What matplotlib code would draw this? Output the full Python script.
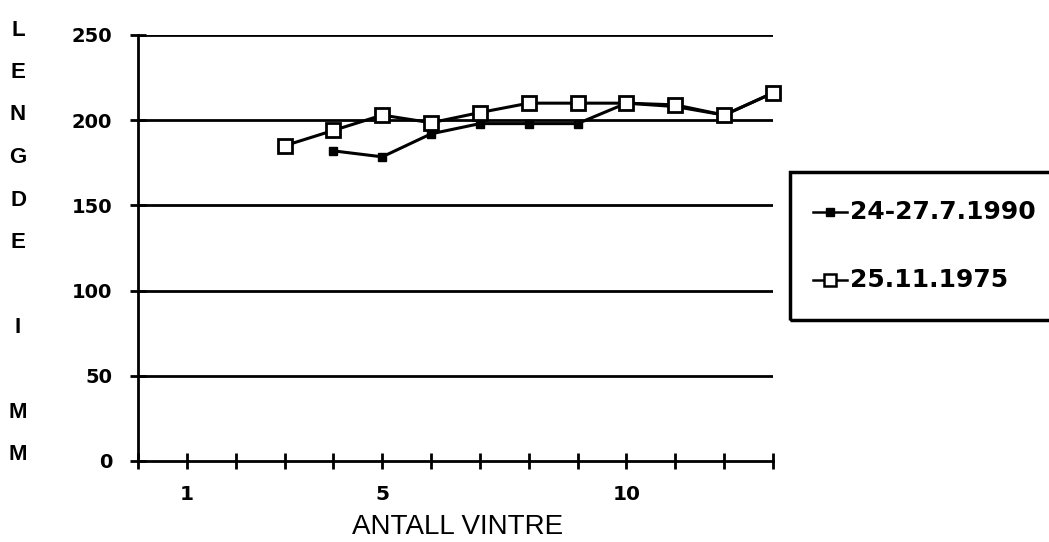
import matplotlib
matplotlib.use("Agg")
import matplotlib.pyplot as plt
from matplotlib.patches import Rectangle
from matplotlib.lines import Line2D

# Data
x_1990 = [4, 5, 6, 7, 8, 9, 10, 11, 12, 13]
y_1990 = [182, 178.5, 192, 198, 198, 198, 210, 208, 203, 216]
x_1975 = [3, 4, 5, 6, 7, 8, 9, 10, 11, 12, 13]
y_1975 = [185, 194, 203, 198.5, 204.5, 210, 210, 210, 209, 203, 216]
label_1990 = "24-27.7.1990"
label_1975 = "25.11.1975"
yticks = [0, 50, 100, 150, 200, 250]
xtick_labels = {1: "1", 5: "5", 10: "10"}
ylabel = "LENGDE I MM"
xlabel = "ANTALL VINTRE"

plt.rcParams['font.family'] = ['DejaVu Sans']

W, H = 1049, 542
fig = plt.figure(figsize=(W / 100, H / 100), dpi=100)
ax = fig.add_axes([138 / W, 1 - 461 / H, (773 - 138) / W, (461 - 35) / H])
ax.set_xlim(0, 13)
ax.set_ylim(0, 250)

for yv in yticks[1:]:
    ax.axhline(yv, color='black', lw=2.0, zorder=1)

ax.plot(x_1990, y_1990, color='black', lw=2.2, marker='s', markersize=6,
        markerfacecolor='black', zorder=3)
ax.plot(x_1975, y_1975, color='black', lw=2.2, marker='s', markersize=10,
        markerfacecolor='white', markeredgewidth=2.0, zorder=4, clip_on=False)

for s in ['top', 'right']:
    ax.spines[s].set_visible(False)
for s in ['left', 'bottom']:
    ax.spines[s].set_linewidth(2.0)

ax.set_yticks(yticks)
ax.set_yticklabels([str(v) for v in yticks], fontsize=14, fontweight='bold')
ax.set_xticks(list(range(0, 14)))
ax.set_xticklabels([xtick_labels.get(i, "") for i in range(0, 14)],
                   fontsize=14.5, fontweight='bold')
ax.tick_params(axis='both', direction='inout', length=11, width=2.0)
ax.tick_params(axis='y', pad=13)
ax.tick_params(axis='x', pad=12)

fig.text(458 / W, 1 - 527 / H, xlabel, ha='center', va='center', fontsize=20,
         family='Liberation Sans')

for i, ch in enumerate(ylabel):
    if ch != ' ':
        fig.text(18 / W, 1 - (30 + i * 42.5) / H, ch, ha='center', va='center',
                 fontsize=16, fontweight='bold', family='Liberation Sans')

# Legend box
fig.patches.append(Rectangle((790 / W, 1 - 320 / H), 300 / W, 148 / H,
                             transform=fig.transFigure, fill=False,
                             edgecolor='black', lw=2.5))
legend_rows = [
    (212, label_1990, dict(marker='s', markersize=6, markerfacecolor='black',
                           markeredgewidth=1.0)),
    (280, label_1975, dict(marker='s', markersize=9, markerfacecolor='white',
                           markeredgewidth=1.8)),
]
for ypix, lab, mk in legend_rows:
    yf = 1 - ypix / H
    fig.add_artist(Line2D([813 / W, 847 / W], [yf, yf], transform=fig.transFigure,
                          color='black', lw=1.8))
    fig.add_artist(Line2D([830 / W], [yf], transform=fig.transFigure,
                          color='black', lw=0, markeredgecolor='black', **mk))
    fig.text(850 / W, yf, lab, ha='left', va='center', fontsize=18,
             fontweight='bold')

fig.savefig("out.png", dpi=100)
